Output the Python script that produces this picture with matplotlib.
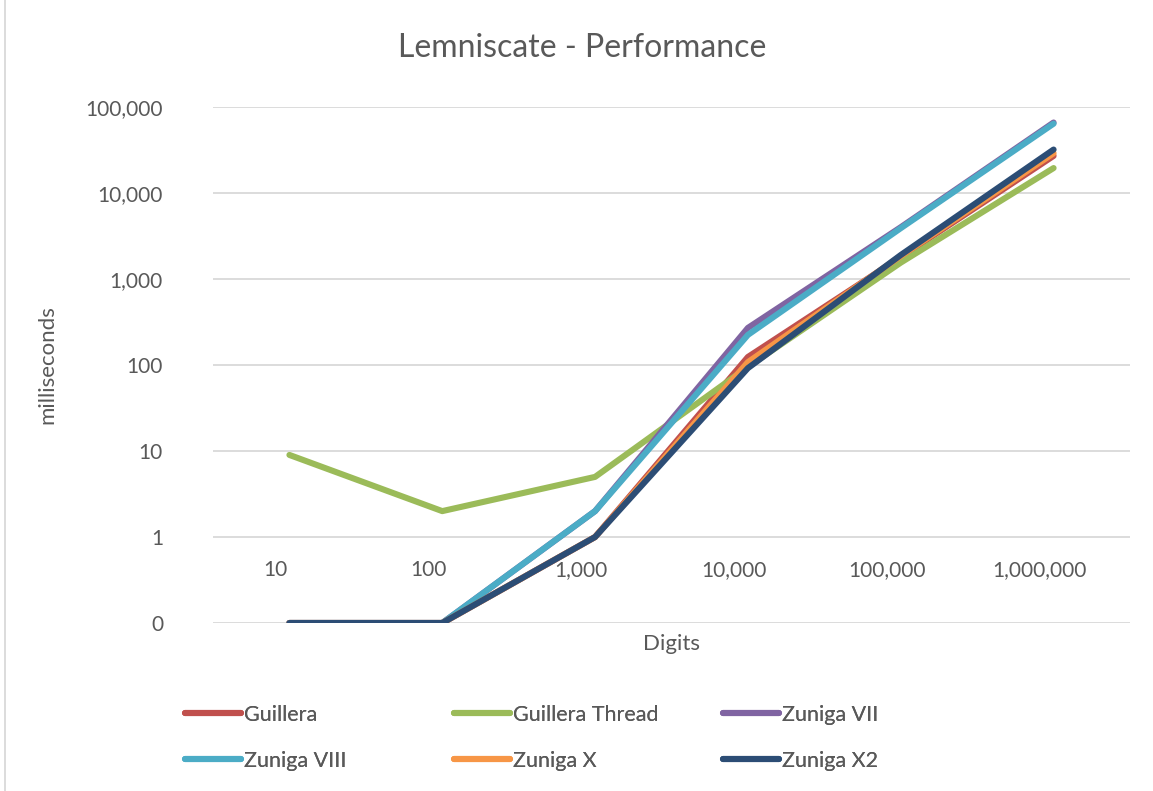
import matplotlib.pyplot as plt
from matplotlib.lines import Line2D
from matplotlib.ticker import FixedLocator, FuncFormatter
from matplotlib.transforms import blended_transform_factory, ScaledTranslation

plt.rcParams['font.family'] = ['Lato', 'DejaVu Sans']

digits = ['10', '100', '1,000', '10,000', '100,000', '1,000,000']

# timings in ms; 0.1 is the floor used for runs that measured as 0
guillera = [0.1, 0.1, 1, 124, 1800, 27000]
guillera_thread = [9, 2, 5, 95, 1550, 19500]
zuniga_vii = [0.1, 0.1, 2, 270, 4000, 66000]
zuniga_viii = [0.1, 0.1, 2, 224, 3900, 64000]
zuniga_x = [0.1, 0.1, 1, 108, 1850, 29000]
zuniga_x2 = [0.1, 0.1, 1, 92, 1900, 32000]

series = [
    ('Guillera', guillera, '#C0504D'),
    ('Guillera Thread', guillera_thread, '#9BBB59'),
    ('Zuniga VII', zuniga_vii, '#8064A2'),
    ('Zuniga VIII', zuniga_viii, '#4BACC6'),
    ('Zuniga X', zuniga_x, '#F79646'),
    ('Zuniga X2', zuniga_x2, '#2C4D75'),
]

text_color = '#595959'

fig = plt.figure(figsize=(11.53, 7.91), dpi=100)
ax = fig.add_axes([213 / 1153, 1 - 623 / 791, (1130 - 213) / 1153, (623 - 107) / 791])

x = list(range(len(digits)))
handles = {}
for name, values, color in series:
    line, = ax.plot(x, values, color=color, lw=4.4, solid_capstyle='round',
                    solid_joinstyle='round', label=name)
    handles[name] = line

ax.set_yscale('log')
ax.set_ylim(0.1, 100000)
ax.set_xlim(-0.5, len(digits) - 0.5)
ax.yaxis.set_major_locator(FixedLocator([0.1, 1, 10, 100, 1000, 10000, 100000]))
ax.yaxis.set_minor_locator(FixedLocator([]))
ax.yaxis.set_major_formatter(FuncFormatter(lambda v, p: f'{v:,.0f}'))
ax.grid(axis='y', color='#D9D9D9', lw=1.3)
ax.set_axisbelow(True)
ax.set_xticks([])
ax.tick_params(axis='y', length=0, pad=36, labelsize=15, labelcolor=text_color)
for s in ax.spines.values():
    s.set_visible(False)

# category labels sit just under the 1 ms line, where the axis crosses
trans = blended_transform_factory(ax.transData, ax.transAxes) + \
    ScaledTranslation(-0.14, 0, fig.dpi_scale_trans)
for i, lab in enumerate(digits):
    ax.text(i, 0.103, lab, transform=trans, ha='center', va='center',
            fontsize=15, color=text_color)

ax.set_ylabel('milliseconds', fontsize=16, color=text_color)
ax.yaxis.set_label_coords(-0.170, 0.5)
ax.set_xlabel('Digits', fontsize=16, color=text_color, labelpad=8)
fig.text(582 / 1153, 1 - 48 / 791, 'Lemniscate - Performance', ha='center',
         va='center', fontsize=23, color=text_color)

columns = [['Guillera', 'Zuniga VIII'], ['Guillera Thread', 'Zuniga X'],
           ['Zuniga VII', 'Zuniga X2']]
for k, names in enumerate(columns):
    leg = fig.legend([handles[n] for n in names], names, loc='upper left',
                     bbox_to_anchor=((185 + 269 * k) / 1153, 1 - 705 / 791),
                     frameon=False, fontsize=15.5, handlelength=2.6,
                     handletextpad=0.14, labelspacing=1.2, borderpad=0,
                     borderaxespad=0, labelcolor=text_color)
    fig.add_artist(leg)

# left edge of the chart-area border
fig.add_artist(Line2D([5 / 1153, 5 / 1153], [0, 1], transform=fig.transFigure,
                      color='#D9D9D9', lw=1.3))

fig.savefig('out.png', dpi=100, facecolor='white')
